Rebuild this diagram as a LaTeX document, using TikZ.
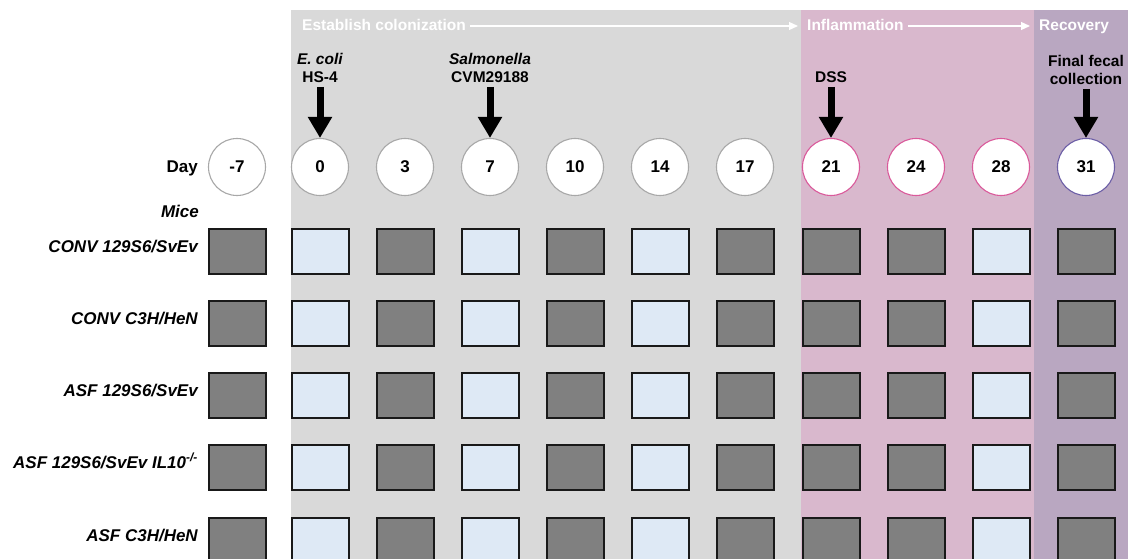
\documentclass[tikz,border=0pt]{standalone}
\usepackage{fontspec}
\setmainfont{Liberation Sans}
\usepackage{tikz}
\usetikzlibrary{arrows.meta,positioning}
\definecolor{colgrey}{HTML}{D9D9D9}
\definecolor{inflpink}{HTML}{D9B8CD}
\definecolor{recpurple}{HTML}{B9A7C1}
\definecolor{ringgrey}{HTML}{A8A8A8}
\definecolor{ringpink}{HTML}{DA5A9B}
\definecolor{ringpurple}{HTML}{6C5EA6}
\definecolor{boxdark}{HTML}{808080}
\definecolor{boxlight}{HTML}{DEE9F5}

\tikzset{
  daycirc/.style={circle,draw=#1,line width=1.1pt,fill=white,minimum size=57pt,
    inner sep=0pt,font=\fontsize{17}{20}\selectfont\bfseries},
  sample/.style={rectangle,draw=black!90,line width=2pt,minimum width=57pt,
    minimum height=45pt,inner sep=0pt},
  sqd/.style={sample,fill=boxdark},
  sql/.style={sample,fill=boxlight},
  phase/.style={anchor=base west,inner sep=0pt,text=white,
    font=\fontsize{15.5}{18}\selectfont\bfseries},
  cue/.style={anchor=south,inner sep=0pt,align=center,
    font=\fontsize{15.5}{18}\selectfont\bfseries},
  mouse/.style={anchor=base east,inner sep=0pt,
    font=\fontsize{17}{20}\selectfont\bfseries\itshape},
  dose/.style={-{Triangle[width=23pt,length=21pt]},line width=7pt,shorten <=4pt},
  span/.style={-{Triangle[width=8pt,length=9pt]},white,line width=1.2pt,shorten <=4pt}
}

\begin{document}
\begin{tikzpicture}[x=1pt,y=-1pt]
  \clip (0,0) rectangle (1128,559);
  % phase panels
  \fill[colgrey] (291,10) rectangle (801,559);
  \fill[inflpink] (801,10) rectangle (1034,559);
  \fill[recpurple] (1034,10) rectangle (1128,559);
  \node[phase] (est) at (302,31) {Establish colonization};
  \node[phase] (infl) at (807,31) {Inflammation};
  \node[phase] (rec) at (1039,31) {Recovery};
  \coordinate (estend) at (798,26);
  \coordinate (inflend) at (1030,26);
  \draw[span] (estend -| est.east) -- (estend);
  \draw[span] (inflend -| infl.east) -- (inflend);
  % days and samples
  \node[anchor=base east,inner sep=0pt,font=\fontsize{17}{20}\selectfont\bfseries]
    (daylab) at (198,173) {Day};
  \node[mouse] (micelab) at (199,218) {Mice};
  \foreach \d/\x/\rc/\sq [count=\i] in {-7/237/ringgrey/sqd,0/320/ringgrey/sql,
      3/405/ringgrey/sqd,7/490/ringgrey/sql,10/575/ringgrey/sqd,14/660/ringgrey/sql,
      17/745/ringgrey/sqd,21/831/ringpink/sqd,24/916/ringpink/sqd,
      28/1001/ringpink/sql,31/1086/ringpurple/sqd}{
    \node[daycirc=\rc] (c\i) at (\x,167) {\d};
    \foreach \y [count=\r] in {251,323,395,467,540}
      \node[\sq] (s\i-\r) at (\x,\y) {};
  }
  \foreach \name [count=\r] in {CONV 129S6/SvEv,CONV C3H/HeN,ASF 129S6/SvEv,
      ASF 129S6/SvEv IL10\textsuperscript{-/-},ASF C3H/HeN}
    \node[mouse] (m\r) at ([xshift=-9.5pt,yshift=-1pt]s1-\r.west) {\name};
  % treatments
  \node[cue] (ecoli) at (320,83) {\textit{E. coli}\\HS-4};
  \node[cue] (salm) at (490,83) {\textit{Salmonella}\\CVM29188};
  \node[cue] (dss) at (831,83) {DSS};
  \node[cue] (fecal) at (1086,85) {Final fecal\\collection};
  \foreach \a/\b in {ecoli/c2,salm/c4,dss/c8,fecal/c11}
    \draw[dose] (\a.south) -- (\b.north);
\end{tikzpicture}
\end{document}
